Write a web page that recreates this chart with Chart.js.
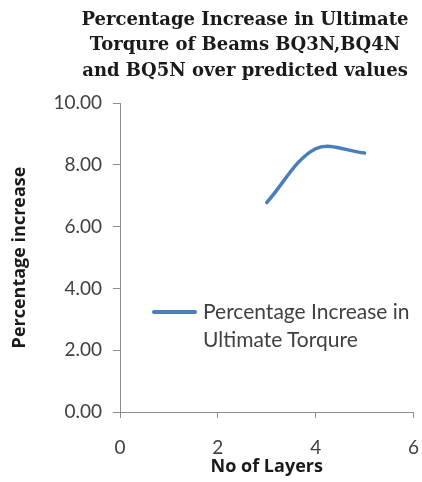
<!DOCTYPE html>
<html>
<head>
<meta charset="utf-8">
<script src="https://cdn.jsdelivr.net/npm/chart.js@4.4.1/dist/chart.umd.min.js"></script>
<style>
  html, body { margin: 0; padding: 0; background: #fff; }
  #wrap { position: relative; width: 422px; height: 482px; }
  #legend { position: absolute; left: 152px; top: 297px; font-family: Lato, "Open Sans", sans-serif; font-size: 21px; color: #404040; line-height: 28px; }
  #legend .row { display: flex; align-items: flex-start; }
  #legend .swatch { width: 45px; height: 3.5px; margin-top: 13px; margin-right: 6px; border-radius: 2px; }
</style>
</head>
<body>
<div id="wrap">
  <canvas id="c" width="422" height="482"></canvas>
  <div id="legend"></div>
</div>
<script>
const titleLines = ["Percentage Increase in Ultimate", "Torqure of Beams BQ3N,BQ4N", "and BQ5N over predicted values"];
const layers = [3, 4, 5];
const percentIncrease = [6.78, 8.52, 8.38];
const seriesName = "Percentage Increase in Ultimate Torqure";
const legendLines = ["Percentage Increase in", "Ultimate Torqure"];
const xTitle = "No of Layers";
const yTitle = "Percentage increase";
const lineColor = "#4a7ebb";
const axisColor = "#8c8c8c";
const textColor = "#404040";

const titlePlugin = {
  id: 'customTitle',
  afterDraw(chart) {
    const ctx = chart.ctx;
    ctx.save();
    ctx.font = 'bold 18px "DejaVu Serif", serif';
    ctx.fillStyle = '#1a1a1a';
    ctx.textAlign = 'center';
    ctx.textBaseline = 'middle';
    titleLines.forEach((t, i) => ctx.fillText(t, 245, 20 + i * 25.5));
    ctx.restore();
  }
};

const chart = new Chart(document.getElementById('c'), {
  type: 'line',
  data: {
    datasets: [{
      label: seriesName,
      data: layers.map((x, i) => ({ x: x, y: percentIncrease[i] })),
      borderColor: lineColor,
      backgroundColor: lineColor,
      borderWidth: 3.5,
      pointRadius: 0,
      tension: 0.35,
      borderCapStyle: 'round',
      fill: false
    }]
  },
  options: {
    responsive: false,
    animation: false,
    layout: { padding: { top: 103, right: 7, bottom: 0, left: 0 } },
    plugins: { legend: { display: false }, tooltip: { enabled: false }, title: { display: false } },
    scales: {
      x: {
        type: 'linear',
        min: 0, max: 6,
        afterFit(s) { s.height = 70; },
        ticks: { stepSize: 2, color: textColor, font: { family: 'Lato, "Open Sans", sans-serif', size: 19, lineHeight: '54px' }, padding: 3, maxRotation: 0 },
        grid: { drawOnChartArea: false, color: axisColor, tickLength: 6 },
        border: { color: axisColor, width: 1 },
        title: { display: true, text: xTitle, color: '#1a1a1a', font: { family: '"Open Sans", Lato, sans-serif', size: 18, weight: 'bold' }, padding: { top: 0, bottom: 4 } }
      },
      y: {
        min: 0, max: 10,
        afterFit(s) { s.width = 120; },
        ticks: { stepSize: 2, color: textColor, font: { family: 'Lato, "Open Sans", sans-serif', size: 19 }, padding: 11, callback: v => Number(v).toFixed(2) },
        grid: { drawOnChartArea: false, color: axisColor, tickLength: 7 },
        border: { color: axisColor, width: 1 },
        title: { display: true, text: yTitle, color: '#1a1a1a', font: { family: '"Open Sans", Lato, sans-serif', size: 18, weight: 'bold' }, padding: { top: 9, bottom: 4 } }
      }
    }
  },
  plugins: [titlePlugin]
});

const lg = document.getElementById('legend');
const row = document.createElement('div');
row.className = 'row';
const sw = document.createElement('div');
sw.className = 'swatch';
sw.style.background = lineColor;
const txt = document.createElement('div');
txt.innerHTML = legendLines.join('<br>');
row.appendChild(sw); row.appendChild(txt);
lg.appendChild(row);
</script>
</body>
</html>
